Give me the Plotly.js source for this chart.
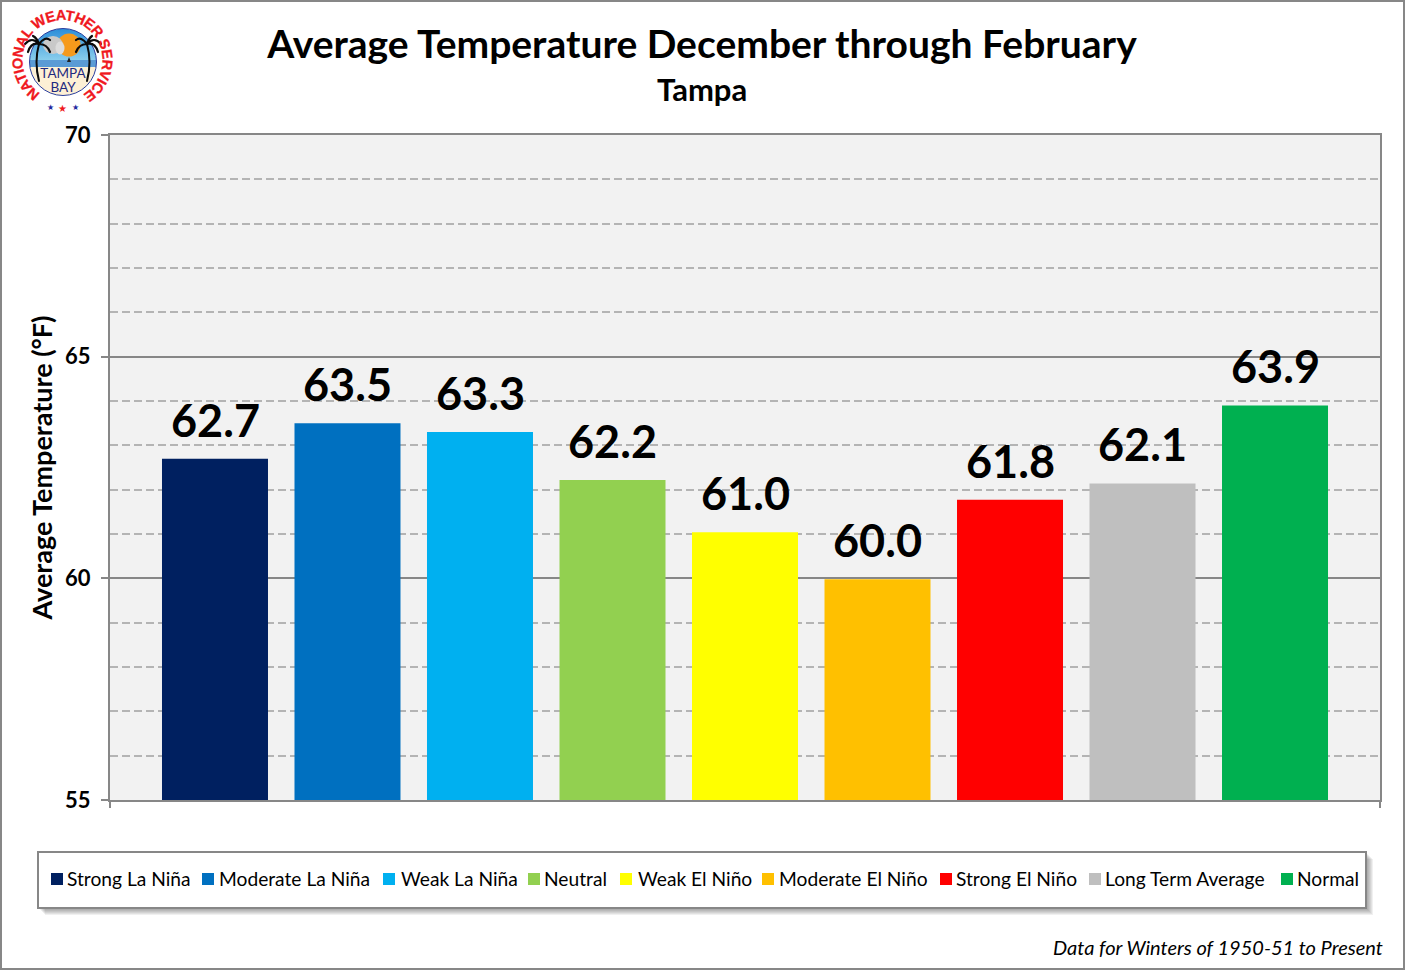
<!DOCTYPE html>
<html><head><meta charset="utf-8">
<script src="https://cdn.plot.ly/plotly-3.0.1.min.js"></script>
<style>
html,body{margin:0;padding:0;background:#fff;overflow:hidden}
#wrap{position:relative;width:1405px;height:970px}
#chart{position:absolute;left:0;top:0;width:1405px;height:970px}
#frame{position:absolute;left:0;top:0;width:1405px;height:970px;box-sizing:border-box;border:2px solid #878787;pointer-events:none}
</style></head><body>
<div id="wrap"><div id="chart"></div><div id="frame"></div></div>
<script>
const categories=["Strong La Niña","Moderate La Niña","Weak La Niña","Neutral","Weak El Niño","Moderate El Niño","Strong El Niño","Long Term Average","Normal"];
const values=[62.7,63.5,63.3,62.22,61.04,59.98,61.77,62.14,63.9];
const colors=["#002060","#0070C0","#00B0F0","#92D050","#FFFF00","#FFC000","#FF0000","#BFBFBF","#00B050"];
const titleText="Average Temperature December through February";
const subtitleText="Tampa";
const yTitle="Average Temperature (°F)";
const footnote="Data for Winters of 1950-51 to Present";
const FONT="Lato, Carlito, Calibri, sans-serif";
const W=1405,H=970,L=110,R=1380,T=135,B=800;
const px=x=>(x-L)/(R-L), py=y=>(B-y)/(B-T);

const logoSvg=`<svg xmlns="http://www.w3.org/2000/svg" width="130" height="120" viewBox="0 0 130 120">
<defs>
<linearGradient id="sky" x1="0" y1="0" x2="0" y2="1"><stop offset="0" stop-color="#2a8cd8"/><stop offset="1" stop-color="#8fd2ee"/></linearGradient>
<clipPath id="disc"><circle cx="63" cy="62" r="33.5"/></clipPath>
<path id="arc" d="M 40.5 93.5 A 40 40 0 1 1 84.5 93.5" fill="none"/>
</defs>
<g clip-path="url(#disc)">
<rect x="28" y="28" width="70" height="34" fill="url(#sky)"/>
<rect x="28" y="60" width="70" height="8" fill="#5b9bd5"/>
<rect x="28" y="67" width="70" height="30" fill="#fdf0d5"/>
<circle cx="69" cy="45" r="11.5" fill="#f59a1c"/>
<ellipse cx="53" cy="45" rx="10" ry="9" fill="#c9c9c9"/>
<ellipse cx="60" cy="48" rx="4.5" ry="6.5" fill="#dcdcdc"/>
<path d="M67 62l2-5 2 5z" fill="#222"/>
</g>
<circle cx="63" cy="62" r="33.5" fill="none" stroke="#2b3f9e" stroke-width="1"/>
<g stroke="#0b0b0b" fill="none" stroke-linecap="round">
<path d="M39 81 Q34 62 39 44" stroke-width="2"/>
<path d="M39 44 Q32 36 25 44 M39 44 Q31 42 28 52 M39 44 Q45 36 50 40 M39 44 Q47 44 50 52 M39 44 Q37 38 33 36" stroke-width="2.2"/>
<path d="M87 81 Q92 62 87 44" stroke-width="2"/>
<path d="M87 44 Q94 36 101 44 M87 44 Q95 42 98 52 M87 44 Q81 36 76 40 M87 44 Q79 44 76 52 M87 44 Q89 38 92 36" stroke-width="2.2"/>
</g>
<text x="63" y="78" text-anchor="middle" font-family="Lato" font-size="13.5" fill="#1f2a80">TAMPA</text>
<text x="63" y="92" text-anchor="middle" font-family="Lato" font-size="13.5" fill="#1f2a80">BAY</text>
<text font-family="Liberation Sans Narrow, Liberation Sans" font-weight="bold" font-size="14.5" fill="#f01820" stroke="#f01820" stroke-width="0.3"><textPath href="#arc" startOffset="0" textLength="206" lengthAdjust="spacing">NATIONAL WEATHER SERVICE</textPath></text>
<text x="50" y="110" text-anchor="middle" font-size="8" fill="#1f2aa0">★</text>
<text x="62" y="112" text-anchor="middle" font-size="10" fill="#f01820">★</text>
<text x="75" y="110" text-anchor="middle" font-size="8" fill="#1f2aa0">★</text>
</svg>`;

const traces=categories.map((c,i)=>({type:"bar",name:c,x:[""],y:[values[i]],marker:{color:colors[i]},hoverinfo:"name+y"}));
const annotations=values.map((v,i)=>({xref:"x",yref:"y",x:0,y:v,xshift:(i-4)*132.5,yshift:11,yanchor:"bottom",xanchor:"center",
  text:v.toFixed(1),showarrow:false,font:{family:FONT,size:45,color:"#000",weight:700},borderpad:0}));
annotations.push({xref:"paper",yref:"paper",x:px(702),y:py(89),xanchor:"center",yanchor:"middle",text:subtitleText,showarrow:false,font:{family:FONT,size:31,color:"#000",weight:700}});
annotations.push({xref:"paper",yref:"paper",x:px(1385),y:py(947),xanchor:"right",yanchor:"middle",text:"<i>"+footnote+"</i>",showarrow:false,font:{family:FONT,size:20,color:"#000"}});
const shapes=[];
for(let k=7;k>=1;k--){shapes.push({type:"rect",xref:"paper",yref:"paper",x0:px(38+k),x1:px(1366+k),y0:py(852+k),y1:py(908+k),line:{width:0},fillcolor:"rgba(0,0,0,0.06)",layer:"below"});}
shapes.push({type:"rect",xref:"paper",yref:"paper",x0:px(38),x1:px(1366),y0:py(852),y1:py(908),line:{color:"#878787",width:2},fillcolor:"#fff",layer:"below"});
const layout={width:W,height:H,margin:{l:L,r:W-R,t:T,b:H-B,pad:0},paper_bgcolor:"#fff",plot_bgcolor:"#F2F2F2",
 barmode:"group",bargap:0.061,bargroupgap:0.2,showlegend:true,
 title:{text:titleText,x:702/W,xanchor:"center",y:1-44/H,yanchor:"middle",font:{family:FONT,size:39,color:"#000",weight:700}},
 xaxis:{type:"category",showticklabels:false,ticks:"outside",ticklen:6,tickwidth:2,tickcolor:"#878787",tickson:"boundaries",showline:true,linecolor:"#878787",linewidth:2,mirror:true,showgrid:false,zeroline:false,fixedrange:true},
 yaxis:{range:[55,70],dtick:5,tick0:55,ticks:"outside",ticklen:7,tickwidth:2,tickcolor:"#878787",showline:true,linecolor:"#878787",linewidth:2,mirror:true,gridcolor:"#878787",gridwidth:2,zeroline:false,
   tickfont:{family:FONT,size:22,color:"#000",weight:700},ticklabelstandoff:6,
   title:{text:yTitle,font:{family:FONT,size:27,color:"#000",weight:700},standoff:5},
   minor:{dtick:1,showgrid:true,gridcolor:"#B4B4B4",griddash:"8px,4px",gridwidth:2,ticks:""},fixedrange:true},
 legend:{orientation:"h",entrywidthmode:"pixels",entrywidth:105,x:px(44),xanchor:"left",y:py(879),yanchor:"middle",bgcolor:"rgba(0,0,0,0)",borderwidth:0,font:{family:FONT,size:19.2,color:"#000"},traceorder:"normal",itemclick:false,itemdoubleclick:false},
 images:[{source:"data:image/svg+xml;charset=utf-8,"+encodeURIComponent(logoSvg),xref:"paper",yref:"paper",x:px(0),y:py(0),sizex:130/(R-L),sizey:120/(B-T),xanchor:"left",yanchor:"top",sizing:"stretch",layer:"above"}],
 annotations,shapes};

// legend entries sit at uneven spacing in the reference: swatch left edge and text start, in page pixels
const swatchLeft=[51,202,383,528,620,762,940,1089,1281];
const textStart=[67,219,401,544,638,779,956,1105,1297];
Plotly.newPlot("chart",traces,layout,{displayModeBar:false,staticPlot:true}).then(gd=>{
  const leg=gd.querySelector(".legend");
  const m=/translate\(\s*([-\d.]+)[ ,]+([-\d.]+)/.exec(leg.getAttribute("transform"));
  const lx=parseFloat(m[1]);
  const sb=leg.querySelector(".scrollbox"); if(sb) sb.removeAttribute("clip-path");
  leg.querySelectorAll(".traces").forEach((g,i)=>{
    const t=/translate\(\s*([-\d.]+)[ ,]+([-\d.]+)/.exec(g.getAttribute("transform"));
    const cx=swatchLeft[i]+6;
    g.setAttribute("transform","translate("+(cx-20-lx)+","+t[2]+")");
    const tx=g.querySelector("text.legendtext");
    if(tx) tx.setAttribute("x",textStart[i]-cx+20);
  });
});
</script></body></html>
